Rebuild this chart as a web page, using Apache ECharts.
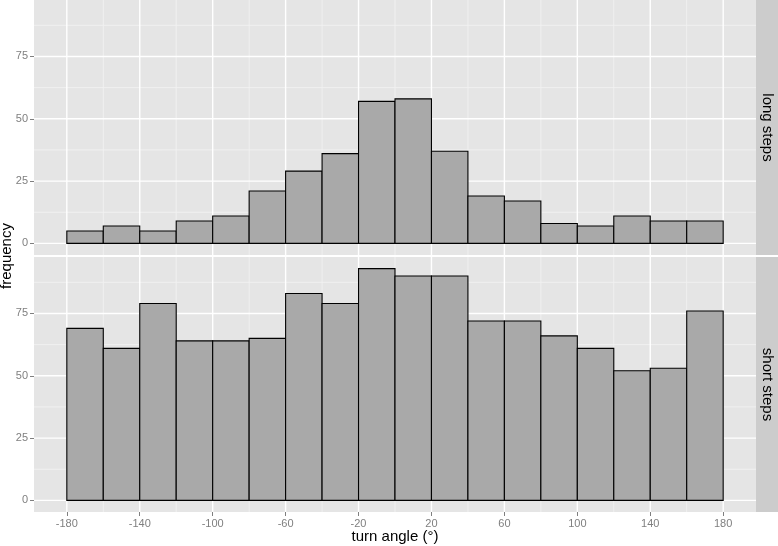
<!DOCTYPE html>
<html><head><meta charset="utf-8">
<script src="https://cdn.jsdelivr.net/npm/echarts@6/dist/echarts.min.js"></script>
<style>html,body{margin:0;padding:0;background:#fff}#c{width:778px;height:546px}</style>
</head><body><div id="c"></div>
<script>
// ---- data ----
const panels = ['long steps', 'short steps'];
const binStarts = [-180,-160,-140,-120,-100,-80,-60,-40,-20,0,20,40,60,80,100,120,140,160];
const binWidth = 20;
const longSteps  = [5,7,5,9,11,21,29,36,57,58,37,19,17,8,7,11,9,9];
const shortSteps = [69,61,79,64,64,65,83,79,93,90,90,72,72,66,61,52,53,76];
const xTicks = [-180,-140,-100,-60,-20,20,60,100,140,180];
const xMinor = [-160,-120,-80,-40,0,40,80,120,160];
const yTicks = [0,25,50,75];
const yMinor = [12.5,37.5,62.5,87.5];
const xTitle = 'turn angle (°)';
const yTitle = 'frequency';

// ---- layout ----
const FONT = '"Liberation Sans", Arial, Helvetica, sans-serif';
const L = 34, W = 722;
const grids = [
  {left: L, top: 0, width: W, height: 255},
  {left: L, top: 257, width: W, height: 255}
];
const xMin = -198, xMax = 198, yMin = -4.65, yMax = 97.65;

const chart = echarts.init(document.getElementById('c'), null, {renderer: 'canvas'});

function gridLineData() {
  const d = [];
  xMinor.forEach(v => d.push([0, v, 0]));
  yMinor.forEach(v => d.push([1, v, 0]));
  xTicks.forEach(v => d.push([0, v, 1]));
  yTicks.forEach(v => d.push([1, v, 1]));
  return d;
}
function renderGridLine(params, api) {
  const cs = params.coordSys;
  const orient = api.value(0), v = api.value(1), major = api.value(2);
  let shape;
  if (orient === 0) {
    const p = api.coord([v, 0]);
    shape = {x1: p[0], y1: cs.y, x2: p[0], y2: cs.y + cs.height};
  } else {
    const p = api.coord([0, v]);
    shape = {x1: cs.x, y1: p[1], x2: cs.x + cs.width, y2: p[1]};
  }
  return {type: 'line', shape,
    style: {stroke: major ? '#FFFFFF' : '#F2F2F2', lineWidth: major ? 1.4 : 0.9}};
}
function renderBar(params, api) {
  const s = api.value(0), c = api.value(1);
  const p0 = api.coord([s, c]);
  const p1 = api.coord([s + binWidth, 0]);
  return {type: 'rect',
    shape: {x: p0[0], y: p0[1], width: p1[0] - p0[0], height: p1[1] - p0[1]},
    style: {fill: '#A9A9A9', stroke: '#000000', lineWidth: 1.1}};
}

const xAxes = grids.map((g, i) => ({
  type: 'value', gridIndex: i, min: xMin, max: xMax,
  axisLine: {show: false, onZero: false},
  splitLine: {show: false},
  axisTick: {show: i === 1, customValues: xTicks, length: 4, lineStyle: {color: '#7F7F7F', width: 1}},
  axisLabel: {show: i === 1, customValues: xTicks, color: '#7F7F7F', fontSize: 11, fontFamily: FONT, margin: 6}
}));
const yAxes = grids.map((g, i) => ({
  type: 'value', gridIndex: i, min: yMin, max: yMax,
  axisLine: {show: false, onZero: false},
  splitLine: {show: false},
  axisTick: {show: true, customValues: yTicks, length: 4, lineStyle: {color: '#7F7F7F', width: 1}},
  axisLabel: {customValues: yTicks, color: '#7F7F7F', fontSize: 11, fontFamily: FONT, margin: 6}
}));

const series = [];
[longSteps, shortSteps].forEach((vals, i) => {
  series.push({type: 'custom', xAxisIndex: i, yAxisIndex: i, z: 1, silent: true,
    renderItem: renderGridLine, data: gridLineData()});
  series.push({type: 'custom', xAxisIndex: i, yAxisIndex: i, z: 2,
    renderItem: renderBar, encode: {x: 0, y: 1},
    data: binStarts.map((s, k) => [s, vals[k]])});
});

const graphic = [];
grids.forEach((g, i) => {
  graphic.push({type: 'rect', silent: true,
    shape: {x: L + W, y: g.top, width: 778 - L - W, height: g.height},
    style: {fill: '#CCCCCC'}});
  graphic.push({type: 'text', silent: true,
    x: L + W + (778 - L - W) / 2, y: g.top + g.height / 2, rotation: -Math.PI / 2,
    style: {text: panels[i], fill: '#000', fontSize: 15, fontFamily: FONT, align: 'center', verticalAlign: 'middle'}});
});
graphic.push({type: 'text', silent: true, x: 7, y: 256, rotation: Math.PI / 2,
  style: {text: yTitle, fill: '#000', fontSize: 15, fontFamily: FONT, align: 'center', verticalAlign: 'middle'}});
graphic.push({type: 'text', silent: true, x: L + W / 2, y: 537,
  style: {text: xTitle, fill: '#000', fontSize: 15, fontFamily: FONT, align: 'center', verticalAlign: 'middle'}});

chart.setOption({
  backgroundColor: '#FFFFFF',
  animation: false,
  grid: grids.map(g => Object.assign({show: true, backgroundColor: '#E5E5E5', borderWidth: 0, containLabel: false, outerBoundsMode: 'none'}, g)),
  xAxis: xAxes,
  yAxis: yAxes,
  series,
  graphic
});
</script></body></html>
